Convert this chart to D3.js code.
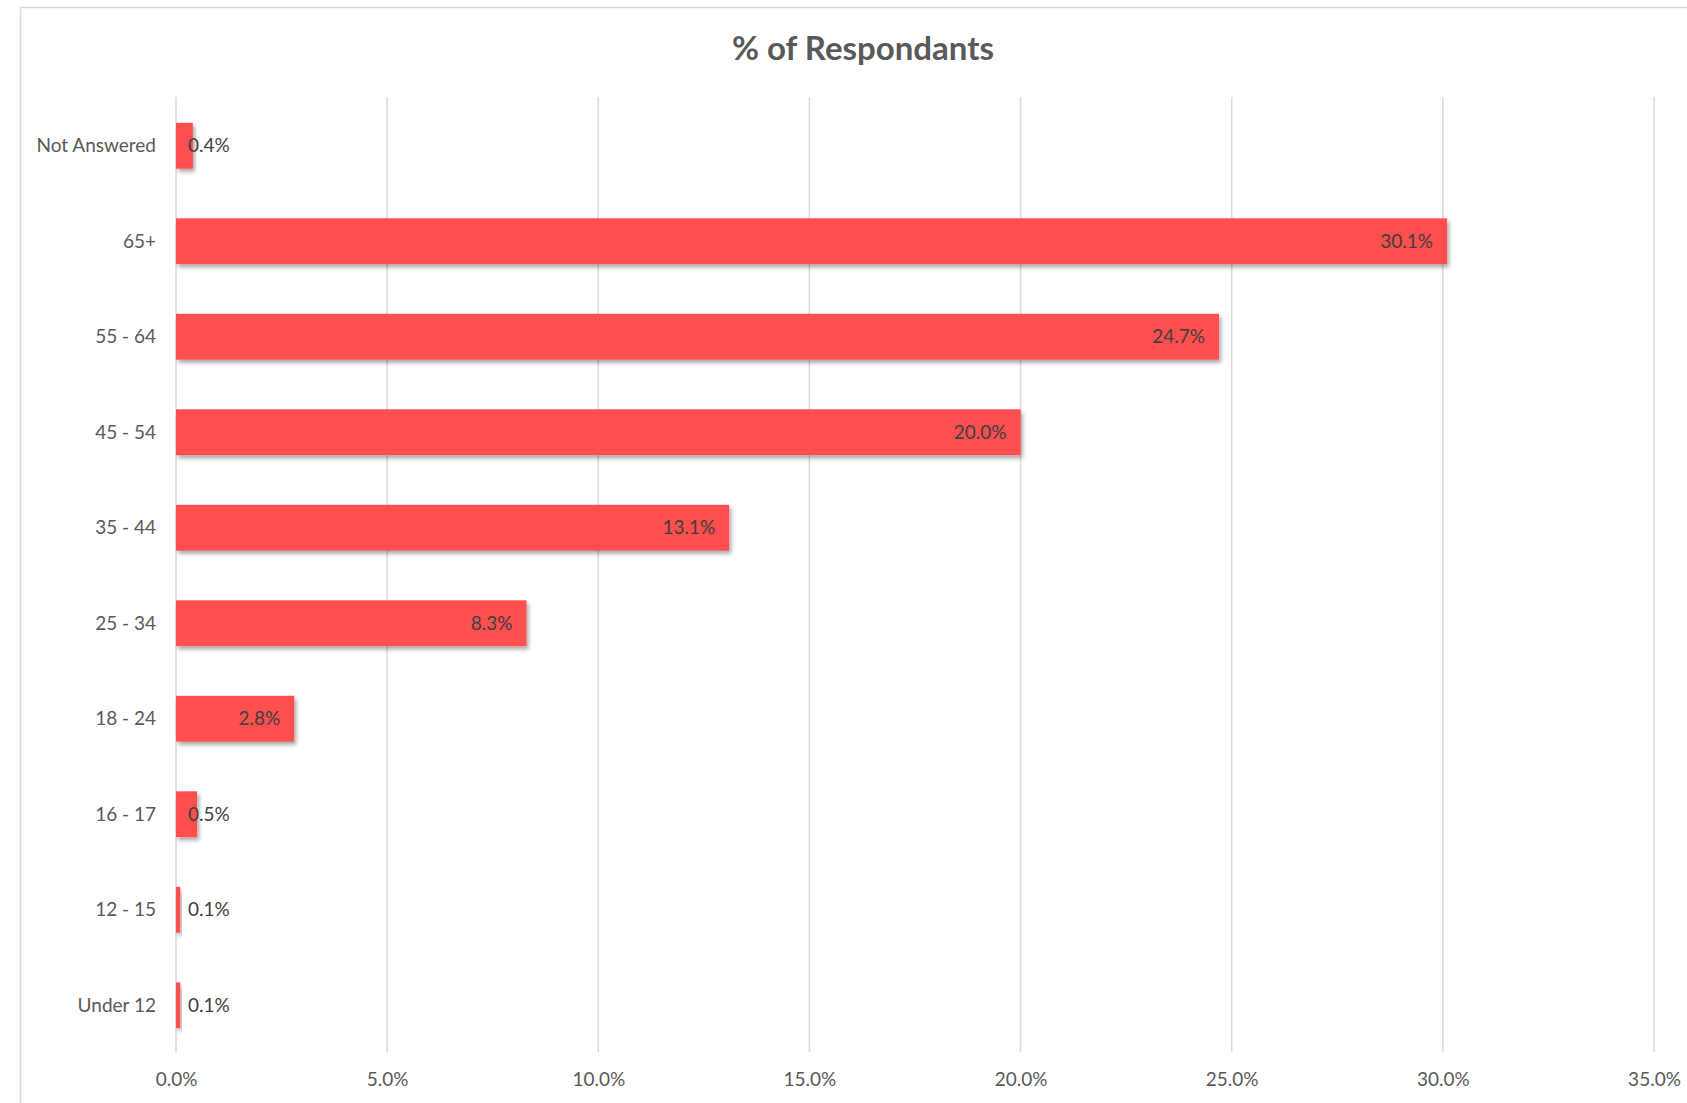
<!DOCTYPE html>
<html>
<head>
<meta charset="utf-8">
<script src="https://cdn.jsdelivr.net/npm/d3@7"></script>
<style>
  html, body { margin: 0; padding: 0; background: #ffffff; }
  svg { display: block; }
</style>
</head>
<body>
<svg id="chart" width="1687" height="1103"></svg>
<script>
const categories = ["Not Answered", "65+", "55 - 64", "45 - 54", "35 - 44", "25 - 34", "18 - 24", "16 - 17", "12 - 15", "Under 12"];
const values = [0.4, 30.1, 24.7, 20.0, 13.1, 8.3, 2.8, 0.5, 0.1, 0.1];
const tickValues = [0, 5, 10, 15, 20, 25, 30, 35];
const title = "% of Respondants";

const svg = d3.select("#chart");
const W = 1687, H = 1103;
const font = "Lato, 'Open Sans', sans-serif";

// chart frame
svg.append("rect").attr("x", 0).attr("y", 0).attr("width", W).attr("height", H).attr("fill", "#ffffff");
svg.append("path")
  .attr("d", `M20.5,${H} L20.5,7.5 L${W},7.5`)
  .attr("fill", "none").attr("stroke", "#d9d9d9").attr("stroke-width", 1.5);

const defs = svg.append("defs");
const f = defs.append("filter").attr("id", "shadow").attr("x", "-10%").attr("y", "-20%").attr("width", "130%").attr("height", "160%");
f.append("feDropShadow").attr("dx", 2).attr("dy", 3).attr("stdDeviation", 2)
  .attr("flood-color", "#000").attr("flood-opacity", 0.35);

const x = d3.scaleLinear().domain([0, 35]).range([176, 1654]);
const y = d3.scaleBand().domain(categories).range([98, 1053]).paddingInner(0.52).paddingOuter(0.26);

// gridlines
svg.append("g").selectAll("line").data(tickValues).join("line")
  .attr("x1", d => x(d)).attr("x2", d => x(d))
  .attr("y1", 97).attr("y2", 1052)
  .attr("stroke", "#d9d9d9").attr("stroke-width", 1.5);

// x axis labels
const xAxis = d3.axisBottom(x).tickValues(tickValues).tickSize(0).tickPadding(0)
  .tickFormat(d => d3.format(".1f")(d) + "%");
const gx = svg.append("g").attr("transform", "translate(0,1079)").call(xAxis);
gx.select(".domain").remove();
gx.selectAll("text").attr("font-family", font).attr("font-size", 19).attr("fill", "#595959")
  .attr("dy", "0.35em");

// y axis labels
const yAxis = d3.axisLeft(y).tickSize(0).tickPadding(0);
const gy = svg.append("g").attr("transform", "translate(156,0)").call(yAxis);
gy.select(".domain").remove();
gy.selectAll("text").attr("font-family", font).attr("font-size", 19).attr("fill", "#595959")
  .attr("dy", "0.35em");

const data = categories.map((c, i) => ({ c, v: values[i] }));

// bars
svg.append("g").selectAll("rect").data(data).join("rect")
  .attr("x", x(0))
  .attr("y", d => y(d.c))
  .attr("width", d => Math.max(x(d.v) - x(0), 2))
  .attr("height", y.bandwidth())
  .attr("fill", "#ff4f4f")
  .attr("filter", "url(#shadow)");

// value labels
svg.append("g").selectAll("text").data(data).join("text")
  .attr("font-family", font).attr("font-size", 19).attr("fill", "#404040")
  .attr("dy", "0.35em")
  .attr("y", d => y(d.c) + y.bandwidth() / 2)
  .attr("x", d => (x(d.v) - x(0) > 60) ? x(d.v) - 14 : x(0) + 12)
  .attr("text-anchor", d => (x(d.v) - x(0) > 60) ? "end" : "start")
  .text(d => d3.format(".1f")(d.v) + "%");

// title
svg.append("text")
  .attr("x", 863).attr("y", 48)
  .attr("text-anchor", "middle").attr("dy", "0.35em")
  .attr("font-family", font).attr("font-size", 33).attr("font-weight", "bold")
  .attr("fill", "#595959")
  .text(title);
</script>
</body>
</html>
